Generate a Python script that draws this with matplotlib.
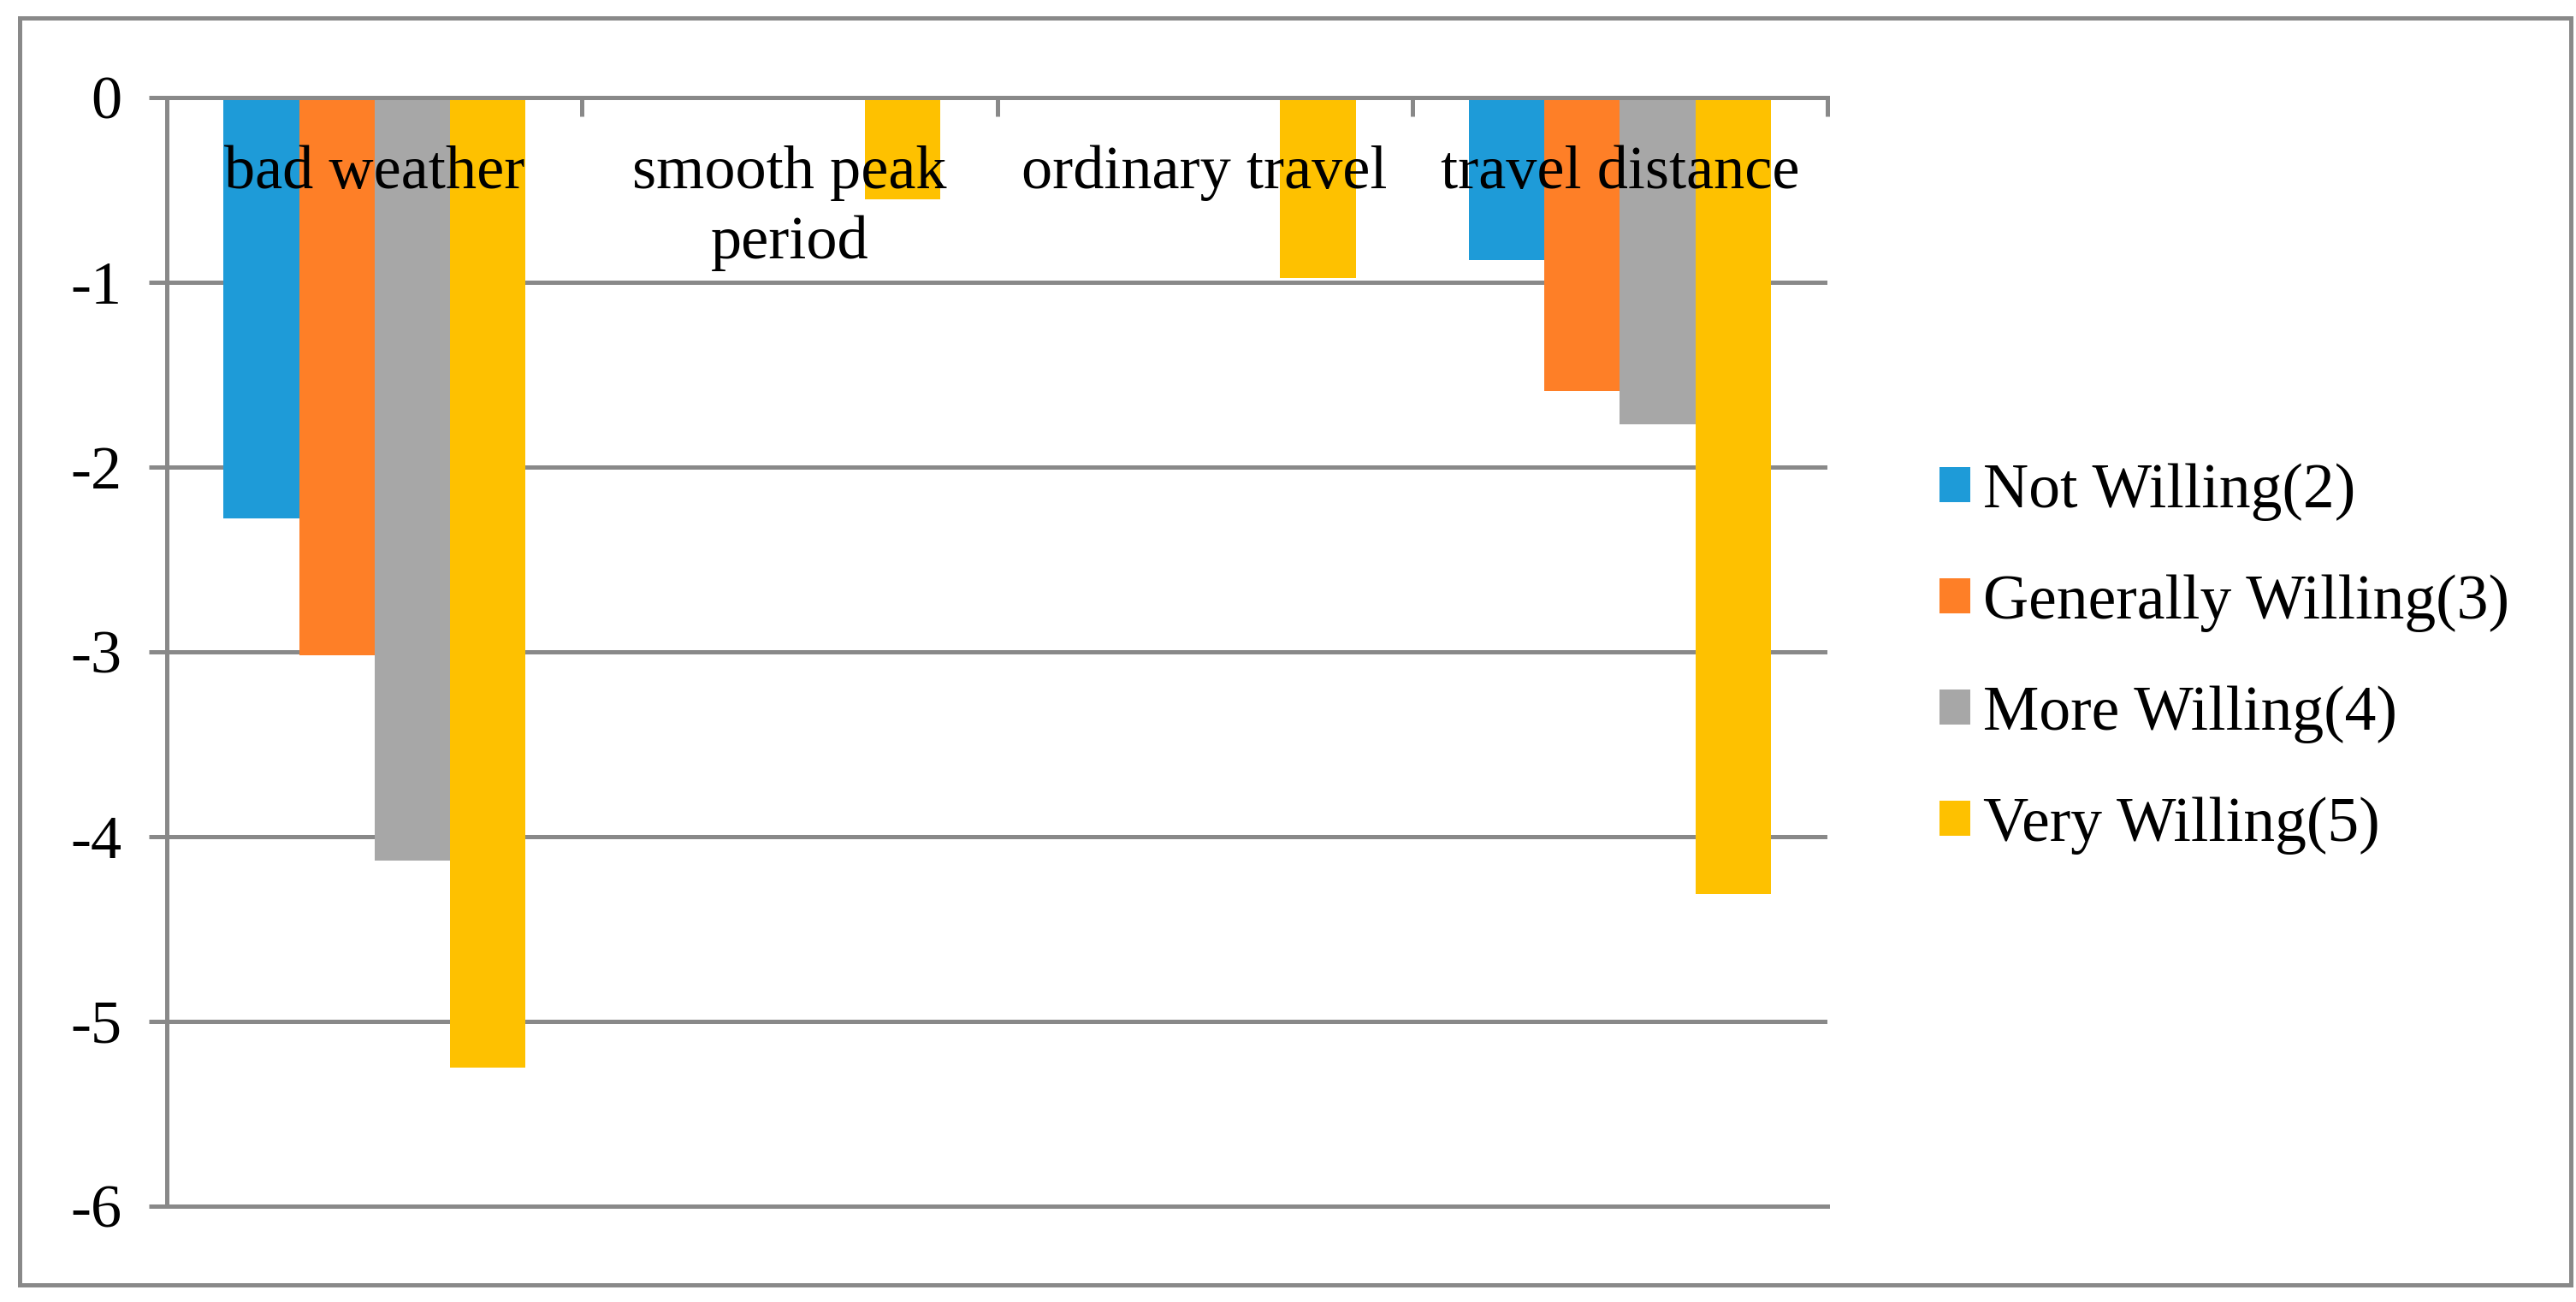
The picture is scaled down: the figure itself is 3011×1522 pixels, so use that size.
import matplotlib
matplotlib.use("Agg")
import matplotlib.pyplot as plt
import matplotlib.patches as patches
import numpy as np

plt.rcParams['font.family'] = ['Liberation Serif', 'DejaVu Serif']
plt.rcParams['axes.unicode_minus'] = False

# data
categories = ['bad weather', 'smooth peak\nperiod', 'ordinary travel', 'travel distance']
series_names = ['Not Willing(2)', 'Generally Willing(3)', 'More Willing(4)', 'Very Willing(5)']
not_willing = [-2.28, 0, 0, -0.88]
generally_willing = [-3.02, 0, 0, -1.59]
more_willing = [-4.13, 0, 0, -1.77]
very_willing = [-5.25, -0.55, -0.98, -4.31]
yticks = [0, -1, -2, -3, -4, -5, -6]
ytick_labels = ['0', '-1', '-2', '-3', '-4', '-5', '-6']

colors = ['#1E9BD8', '#FE7F27', '#A7A7A7', '#FEC100']
grid_c = '#898989'

fig = plt.figure(figsize=(30.11, 15.22), dpi=100)
ax = fig.add_axes([0.0648, 0.0736, 0.6446, 0.8517])

x = np.arange(len(categories))
w = 1 / 5.5
all_vals = [not_willing, generally_willing, more_willing, very_willing]
for k, vals in enumerate(all_vals):
    ax.bar(x + (k - 1.5) * w, vals, w, color=colors[k], label=series_names[k], zorder=2)

ax.set_xlim(-0.5, len(categories) - 0.5)
ax.set_ylim(-6, 0)
ax.set_axisbelow(True)

ax.set_yticks(yticks)
ax.set_yticklabels(ytick_labels, fontsize=52)
ax.tick_params(axis='y', direction='out', length=15, width=3.6, color=grid_c, pad=23)
ax.yaxis.grid(True, color=grid_c, linewidth=3.6)

# category axis sits at y = 0 (top)
ax.set_xticks([])
ax.set_xticks(np.arange(-0.5, len(categories)), minor=True)
ax.tick_params(axis='x', which='minor', top=True, bottom=False, direction='in',
               length=16, width=3.6, color=grid_c)

ax.spines['right'].set_visible(False)
for s in ['left', 'top', 'bottom']:
    ax.spines[s].set_color(grid_c)
    ax.spines[s].set_linewidth(3.6)

# category labels just under the axis line, wrapped lines placed one by one
for i, c in enumerate(categories):
    for j, line in enumerate(c.split('\n')):
        ax.text(i, -0.49 - j * 0.382, line, ha='center', va='baseline', fontsize=52, zorder=5)

ax.legend(loc='center left', bbox_to_anchor=(0.753, 0.494), bbox_transform=fig.transFigure,
          frameon=False, fontsize=53, handlelength=0.49, handleheight=0.48,
          handletextpad=0.2, labelspacing=0.85, borderpad=0, borderaxespad=0)

# outer chart border
fig.patches.append(patches.Rectangle((0.0076, 0.0131), 0.9904, 0.973, transform=fig.transFigure,
                                     fill=False, edgecolor=grid_c, linewidth=3.6))

fig.savefig('out.png', dpi=100)
